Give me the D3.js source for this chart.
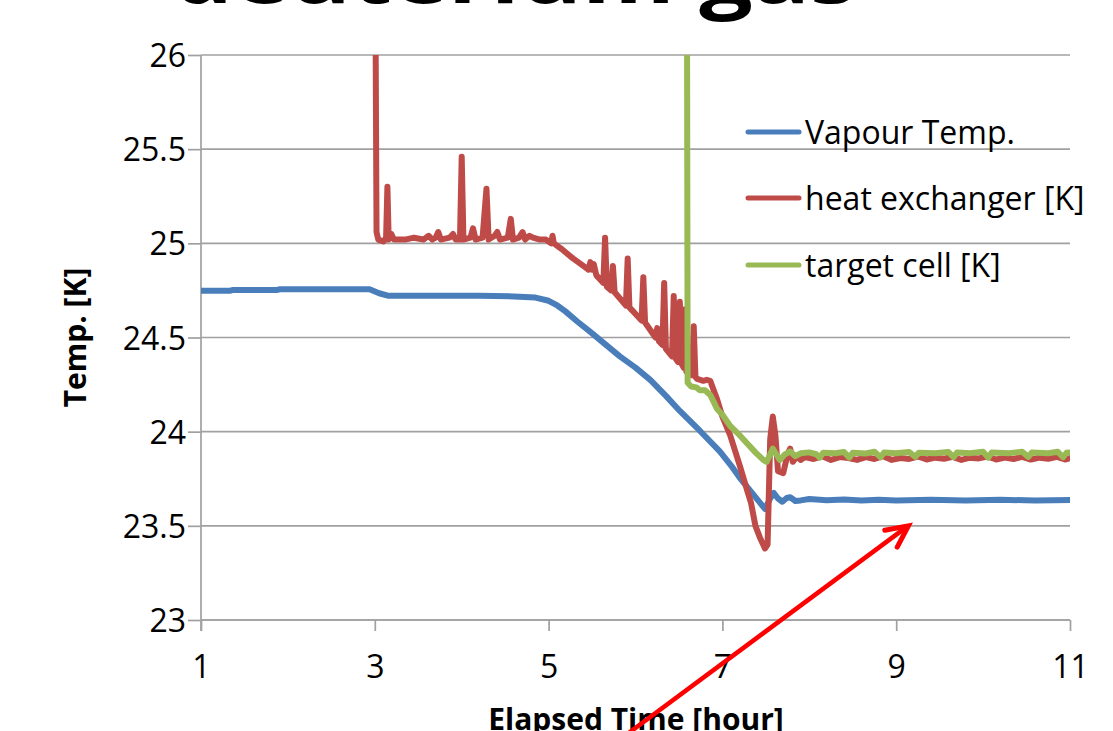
<!DOCTYPE html>
<html><head><meta charset="utf-8">
<script src="https://cdn.jsdelivr.net/npm/d3@7"></script>
<style>
html,body{margin:0;padding:0;background:#fff;overflow:hidden}
svg{display:block}
text{font-family:"Open Sans","Noto Sans",sans-serif;fill:#000}
</style></head>
<body>
<svg id="chart" width="1113" height="731"></svg>
<script>
// ---- data ----
const title = "deuterium gas";
const xLabel = "Elapsed Time [hour]";
const yLabel = "Temp. [K]";
const xTicks = [1, 3, 5, 7, 9, 11];
const yTicks = [23, 23.5, 24, 24.5, 25, 25.5, 26];
const seriesNames = ["Vapour Temp.", "heat exchanger [K]", "target cell [K]"];
const seriesColors = ["#4a7ebb", "#be4b48", "#98b954"];

const vapour = [
  [1.00,24.748],[1.33,24.748],[1.36,24.752],[1.87,24.752],[1.90,24.756],[2.94,24.756],
  [3.05,24.735],[3.15,24.722],[3.60,24.722],[4.20,24.722],[4.60,24.718],[4.85,24.712],
  [5.00,24.695],[5.10,24.67],[5.19,24.64],[5.33,24.585],[5.48,24.53],[5.65,24.465],
  [5.82,24.40],[6.00,24.34],[6.17,24.275],[6.35,24.19],[6.51,24.11],[6.74,24.005],
  [6.97,23.895],[7.10,23.82],[7.20,23.755],[7.35,23.67],[7.49,23.59],[7.55,23.645],
  [7.59,23.675],[7.64,23.645],[7.69,23.628],[7.74,23.648],[7.78,23.652],[7.84,23.632],
  [7.90,23.635],[8.00,23.642],[8.20,23.636],[8.40,23.640],[8.60,23.634],[8.80,23.638],
  [9.00,23.635],[9.40,23.639],[9.80,23.634],[10.2,23.638],[10.6,23.635],[11.0,23.637]
];

const heatExchanger = [
  [3.00,27.0],[3.02,25.06],[3.04,25.02],[3.10,25.01],[3.13,25.03],[3.145,25.30],[3.16,25.02],
  [3.19,25.05],[3.22,25.02],[3.35,25.02],[3.45,25.03],[3.56,25.02],[3.62,25.04],[3.66,25.02],
  [3.70,25.03],[3.73,25.06],[3.76,25.02],[3.86,25.03],[3.90,25.05],[3.93,25.02],[3.98,25.02],
  [4.00,25.46],[4.02,25.02],[4.10,25.03],[4.13,25.08],[4.16,25.02],[4.24,25.03],[4.285,25.29],
  [4.31,25.02],[4.38,25.04],[4.41,25.06],[4.44,25.02],[4.53,25.03],[4.565,25.13],[4.59,25.02],
  [4.66,25.03],[4.70,25.06],[4.73,25.02],[4.78,25.04],[4.82,25.03],[4.90,25.02],[4.97,25.02],
  [5.00,25.01],[5.03,25.00],[5.045,25.04],[5.06,25.00],[5.15,24.97],[5.28,24.92],
  [5.40,24.88],[5.46,24.86],[5.48,24.90],[5.50,24.86],[5.52,24.89],[5.55,24.83],
  [5.63,24.79],[5.65,25.03],[5.67,24.77],[5.72,24.75],[5.74,24.88],[5.76,24.74],
  [5.89,24.67],[5.91,24.92],[5.93,24.66],[6.07,24.59],[6.09,24.82],[6.11,24.58],
  [6.23,24.50],[6.25,24.55],[6.27,24.48],[6.31,24.46],[6.33,24.79],[6.35,24.44],
  [6.42,24.40],[6.44,24.72],[6.46,24.39],[6.49,24.37],[6.51,24.69],[6.53,24.36],
  [6.555,24.34],[6.57,24.65],[6.585,24.32],[6.65,24.30],[6.67,24.56],[6.69,24.29],
  [6.71,24.28],[6.78,24.27],[6.82,24.275],[6.86,24.27],[6.90,24.22],[6.94,24.17],
  [7.00,24.08],[7.09,23.98],[7.20,23.82],[7.29,23.68],[7.33,23.62],[7.38,23.50],
  [7.43,23.44],[7.49,23.38],[7.52,23.40],[7.55,23.96],[7.58,24.08],[7.61,23.98],
  [7.64,23.79],[7.70,23.78],[7.75,23.88],[7.78,23.91],[7.81,23.84],[7.86,23.87],
  [7.90,23.85],[7.95,23.865],[8.05,23.855],[8.15,23.87],[8.25,23.85],[8.35,23.865],
  [8.45,23.86],[8.55,23.85],[8.65,23.865],[8.75,23.855],[8.85,23.87],[8.95,23.85],
  [9.05,23.86],[9.15,23.855],[9.25,23.868],[9.35,23.852],[9.45,23.862],[9.55,23.856],
  [9.65,23.866],[9.75,23.85],[9.85,23.862],[9.95,23.858],[10.05,23.868],[10.15,23.852],
  [10.25,23.862],[10.35,23.855],[10.45,23.866],[10.55,23.852],[10.65,23.862],[10.75,23.856],
  [10.85,23.866],[10.95,23.852],[11.0,23.86]
];

const targetCell = [
  [6.59,27.0],[6.60,24.26],[6.64,24.24],[6.70,24.235],[6.74,24.22],[6.80,24.22],
  [6.86,24.195],[6.94,24.12],[7.00,24.09],[7.09,24.03],[7.18,23.99],[7.28,23.94],
  [7.38,23.89],[7.47,23.85],[7.51,23.84],[7.55,23.88],[7.58,23.91],[7.62,23.88],
  [7.66,23.85],[7.72,23.88],[7.78,23.895],[7.84,23.87],[7.90,23.885],[8.00,23.89],
  [8.08,23.88],[8.12,23.862],[8.16,23.888],[8.30,23.885],[8.40,23.892],[8.46,23.862],
  [8.50,23.888],[8.65,23.884],[8.75,23.893],[8.82,23.864],[8.86,23.889],[9.00,23.886],
  [9.15,23.892],[9.22,23.866],[9.26,23.888],[9.45,23.885],[9.60,23.892],[9.66,23.865],
  [9.70,23.889],[9.85,23.886],[10.00,23.893],[10.06,23.862],[10.10,23.89],[10.30,23.886],
  [10.45,23.893],[10.52,23.866],[10.56,23.889],[10.75,23.885],[10.86,23.893],[10.92,23.864],
  [10.96,23.888],[11.0,23.89]
];

const arrowFrom = [5.60, 22.29];
const arrowTo = [9.14, 23.50];

// ---- chart ----
const svg = d3.select("#chart");
const margin = {left: 201, right: 43, top: 55, bottom: 111};
const W = 1113, H = 731;
const x = d3.scaleLinear().domain([1, 11]).range([margin.left, W - margin.right]);
const y = d3.scaleLinear().domain([23, 26]).range([H - margin.bottom, margin.top]);

// title (mostly cut off at top)
svg.append("text").attr("x", 173).attr("y", 3)
  .attr("textLength", 684).attr("lengthAdjust", "spacingAndGlyphs")
  .style("font-size", "78px").style("font-weight", "bold").text(title);

// gridlines
svg.append("g").selectAll("line").data(yTicks).join("line")
  .attr("x1", x(1)).attr("x2", x(11)).attr("y1", d => y(d)).attr("y2", d => y(d))
  .attr("stroke", "#a0a0a0").attr("stroke-width", 1.7);

// y axis
const yAxis = svg.append("g").attr("transform", `translate(${x(1)},0)`)
  .call(d3.axisLeft(y).tickValues(yTicks).tickSize(13).tickPadding(2).tickFormat(d3.format("")));
yAxis.select(".domain").attr("stroke", "#a0a0a0").attr("stroke-width", 1.7).attr("d", `M0,${y(23)+11}V${y(26)}`);
yAxis.selectAll(".tick line").attr("stroke", "#a0a0a0").attr("stroke-width", 1.7);
yAxis.selectAll(".tick text").style("font-size", "32px").style("font-family", '"Open Sans",sans-serif').attr("fill", "#000").attr("dy", "0.36em");

// x axis
const xAxis = svg.append("g").attr("transform", `translate(0,${y(23)})`)
  .call(d3.axisBottom(x).tickValues(xTicks).tickSize(11).tickPadding(24).tickFormat(d3.format("d")));
xAxis.select(".domain").attr("stroke", "#a0a0a0").attr("stroke-width", 1.7).attr("d", `M${x(1)},0H${x(11)}`);
xAxis.selectAll(".tick line").attr("stroke", "#a0a0a0").attr("stroke-width", 1.7);
xAxis.selectAll(".tick text").style("font-size", "32px").style("font-family", '"Open Sans",sans-serif').attr("fill", "#000");

// axis titles
svg.append("text").attr("transform", `translate(86,${y(24.5)}) rotate(-90)`)
  .attr("text-anchor", "middle").style("font-size", "30px").style("font-weight", "bold").text(yLabel);
svg.append("text").attr("x", 636).attr("y", 730)
  .attr("text-anchor", "middle").style("font-size", "30px").style("font-weight", "bold").text(xLabel);

// clip
svg.append("clipPath").attr("id", "plotclip").append("rect")
  .attr("x", x(1)).attr("y", y(26)).attr("width", x(11) - x(1)).attr("height", y(23) - y(26));

const line = d3.line().x(d => x(d[0])).y(d => y(d[1]));
const series = [vapour, heatExchanger, targetCell];
const plot = svg.append("g").attr("clip-path", "url(#plotclip)");
series.forEach((s, i) => {
  plot.append("path").datum(s).attr("d", line)
    .attr("fill", "none").attr("stroke", seriesColors[i]).attr("stroke-width", 6)
    .attr("stroke-linejoin", "round").attr("stroke-linecap", "round");
});

// legend
const legend = svg.append("g");
const legY = [132, 198, 265];
seriesNames.forEach((n, i) => {
  legend.append("line").attr("x1", 748).attr("x2", 799).attr("y1", legY[i]).attr("y2", legY[i])
    .attr("stroke", seriesColors[i]).attr("stroke-width", 5).attr("stroke-linecap", "round");
  legend.append("text").attr("x", 805).attr("y", legY[i]).attr("dy", "0.36em")
    .style("font-size", "32px").text(n);
});

// red arrow annotation
const ax1 = x(arrowFrom[0]), ay1 = y(arrowFrom[1]), ax2 = x(arrowTo[0]), ay2 = y(arrowTo[1]);
svg.append("line").attr("x1", ax1).attr("y1", ay1).attr("x2", ax2 - 3).attr("y2", ay2 + 2)
  .attr("stroke", "#ff0000").attr("stroke-width", 4.5);
const ang = Math.atan2(ay2 - ay1, ax2 - ax1);
const hl = 24, ha = 0.45;
const p1 = [ax2 - hl * Math.cos(ang - ha), ay2 - hl * Math.sin(ang - ha)];
const p2 = [ax2 - hl * Math.cos(ang + ha), ay2 - hl * Math.sin(ang + ha)];
svg.append("path").attr("d", `M${p1[0]},${p1[1]}L${ax2},${ay2}L${p2[0]},${p2[1]}`)
  .attr("fill", "none").attr("stroke", "#ff0000").attr("stroke-width", 5)
  .attr("stroke-linecap", "round").attr("stroke-linejoin", "miter");
</script>
</body></html>
